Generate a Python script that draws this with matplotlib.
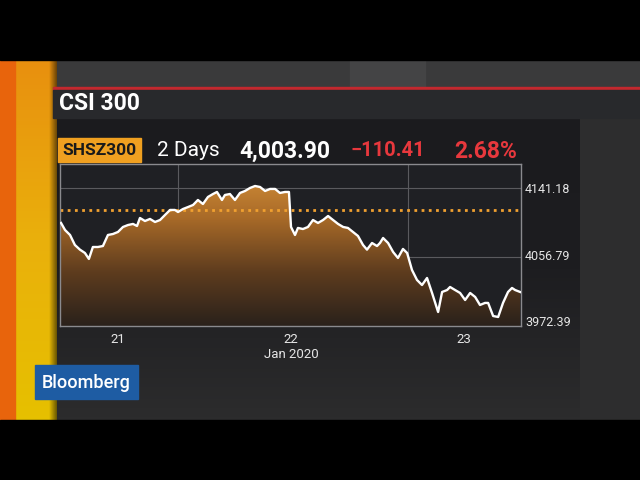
import matplotlib.pyplot as plt
import numpy as np
from matplotlib.patches import Rectangle
from matplotlib.colors import LinearSegmentedColormap
from matplotlib.transforms import ScaledTranslation

# CSI 300 intraday, 2 days (x = fractional day of Jan 2020)
t = [20.671, 20.694, 20.723, 20.751, 20.780, 20.809, 20.832, 20.855, 20.884, 20.913,
     20.942, 20.971, 21.000, 21.029, 21.058, 21.087, 21.110, 21.127, 21.156, 21.185,
     21.214, 21.243, 21.272, 21.301, 21.329, 21.347, 21.376, 21.405, 21.434, 21.462,
     21.491, 21.520, 21.549, 21.572, 21.601, 21.618, 21.647, 21.676, 21.705, 21.734,
     21.763, 21.792, 21.821, 21.850, 21.879, 21.908, 21.936, 21.965, 21.988, 22.000,
     22.023, 22.040, 22.069, 22.098, 22.127, 22.156, 22.185, 22.214, 22.243, 22.272,
     22.301, 22.329, 22.358, 22.387, 22.416, 22.439, 22.468, 22.497, 22.514, 22.532,
     22.561, 22.590, 22.618, 22.647, 22.671, 22.699, 22.728, 22.757, 22.786, 22.815,
     22.850, 22.873, 22.902, 22.919, 22.948, 22.977, 23.006, 23.035, 23.064, 23.092,
     23.121, 23.139, 23.168, 23.197, 23.225, 23.254, 23.277, 23.295, 23.324]
price = [4098.4, 4089.8, 4083.7, 4071.5, 4065.8, 4061.7, 4054.4, 4069.0, 4069.0, 4070.2,
         4083.7, 4084.9, 4087.4, 4093.5, 4095.9, 4097.2, 4094.7, 4104.5, 4100.8, 4103.3,
         4099.6, 4102.0, 4108.2, 4114.3, 4114.3, 4111.8, 4115.5, 4117.9, 4120.4, 4126.5,
         4121.6, 4130.2, 4133.8, 4136.3, 4126.5, 4132.6, 4133.8, 4126.5, 4135.1, 4137.5,
         4141.2, 4143.6, 4142.4, 4137.5, 4140.0, 4140.0, 4135.1, 4136.3, 4136.3, 4093.5,
         4083.7, 4092.3, 4091.0, 4093.5, 4102.0, 4098.4, 4102.0, 4106.9, 4102.0, 4097.2,
         4093.5, 4092.3, 4087.4, 4082.5, 4071.5, 4065.8, 4073.9, 4070.2, 4073.9, 4080.0,
         4073.9, 4062.9, 4055.6, 4066.6, 4061.7, 4040.9, 4028.7, 4022.5, 4031.1, 4012.8,
         3989.5, 4014.0, 4016.4, 4020.1, 4016.4, 4012.8, 4004.2, 4012.8, 4007.9, 3998.1,
         4000.6, 4000.6, 3984.6, 3983.4, 4000.6, 4014.0, 4018.9, 4016.4, 4014.0]

prev_close = 4114.31
y_ticks = [3972.39, 4056.79, 4141.18]
x_ticks = [21, 22, 23]
x_tick_labels = ['21', '22\nJan 2020', '23']
x_grid = [21.347, 22.676]

FONT = ['Roboto', 'DejaVu Sans']

fig = plt.figure(figsize=(6.4, 4.8), dpi=100, facecolor='black')

# ---- background / TV frame (pixel coordinates) ----
bg = fig.add_axes([0, 0, 1, 1])
bg.set_xlim(0, 640)
bg.set_ylim(480, 0)
bg.axis('off')
bg.add_patch(Rectangle((0, 60), 640, 360, color='#2d2d2e', zorder=0))
bg.add_patch(Rectangle((0, 60), 640, 28, color='#3a3a3b', zorder=1))
bg.add_patch(Rectangle((350, 60), 75, 28, color='#444445', zorder=1))
# panel with vertical gradient
ramp = np.linspace(0, 1, 100).reshape(-1, 1)
bg.imshow(ramp, extent=(57, 580, 420, 118),
          cmap=LinearSegmentedColormap.from_list('p', ['#1b1b1e', '#1d1d20', '#2c2c2d']),
          aspect='auto', zorder=2)
# left stripes
bg.imshow(ramp, extent=(15, 57, 420, 60),
          cmap=LinearSegmentedColormap.from_list('s', ['#e8900f', '#eab00c', '#e6c000']),
          aspect='auto', zorder=3)
shade = np.linspace(0, 1, 50).reshape(1, -1)
bg.imshow(shade, extent=(49, 57, 420, 60),
          cmap=LinearSegmentedColormap.from_list('sh', [(0, 0, 0, 0), (0, 0, 0, 0.55)]),
          aspect='auto', zorder=3.5)
bg.add_patch(Rectangle((0, 60), 15, 360, color='#e8640c', zorder=3))
# title bar
bg.add_patch(Rectangle((53, 87), 587, 2.5, color='#c3282e', zorder=4))
bg.add_patch(Rectangle((53, 89.5), 587, 28.5, color='#28292c', zorder=4))
bg.text(59, 104, 'CSI 300', color='white', fontsize=16.5, fontweight='bold',
        family=FONT, va='center', ha='left', zorder=5)
# header
bg.add_patch(Rectangle((58, 138), 83, 24, color='#f0a020', zorder=4))
bg.text(99.5, 150.5, 'SHSZ300', color='#1a1a1a', fontsize=12.5, fontweight='bold',
        family=FONT, va='center', ha='center', zorder=5)
bg.text(157, 151, '2 Days', color='white', fontsize=15, family=FONT, va='center', zorder=5)
bg.text(239, 151, '4,003.90', color='white', fontsize=16.5, fontweight='bold',
        family=FONT, va='center', zorder=5)
bg.text(351, 151, '\u2212110.41', color='#e8383d', fontsize=14.5, fontweight='bold',
        family=FONT, va='center', zorder=5)
bg.text(454, 151, '2.68%', color='#e8383d', fontsize=16.5, fontweight='bold',
        family=FONT, va='center', zorder=5)
# Bloomberg logo
bg.add_patch(Rectangle((35, 365), 103, 34, color='#1e5ca3', zorder=6))
bg.text(86.5, 382.5, 'Bloomberg', color='white', fontsize=13, fontweight='medium',
        family=FONT, va='center', ha='center', zorder=7)
# letterbox bars
bg.add_patch(Rectangle((0, 0), 640, 60, color='black', zorder=8))
bg.add_patch(Rectangle((0, 420), 640, 60, color='black', zorder=8))

# ---- price chart ----
ax = fig.add_axes([60 / 640, 1 - 326 / 480, 461 / 640, 162 / 480])
ax.set_facecolor('#1f2024')
ymin, ymax = 3972.39, 4170.5
ax.set_xlim(20.665, 23.329)
ax.set_ylim(ymin, ymax)

cmap = LinearSegmentedColormap.from_list('f', ['#2a211b', '#5e3c1e', '#a86a28', '#d8923a'])
grad = np.linspace(0, 1, 256).reshape(-1, 1)
poly = ax.fill_between(t, price, ymin, color='none', lw=0)
img = ax.imshow(grad, extent=(20.665, 23.329, ymin, ymax), origin='lower',
                cmap=cmap, aspect='auto', zorder=1)
img.set_clip_path(poly.get_paths()[0], transform=ax.transData)

ax.plot(t, price, color='white', lw=1.7, zorder=3, solid_joinstyle='round')
ax.axhline(prev_close, color='#f0a030', lw=2, ls=(0, (1, 1.6)), zorder=2)

for g in x_grid:
    ax.axvline(g, color='#5a5a5e', lw=0.8, zorder=0.5)
for yv in y_ticks[1:]:
    ax.axhline(yv, color='#5a5a5e', lw=0.8, zorder=0.5)

ax.set_yticks(y_ticks)
ax.set_yticklabels([f'{v:.2f}' for v in y_ticks])
ax.yaxis.tick_right()
ax.set_xticks(x_ticks)
ax.set_xticklabels(x_tick_labels, linespacing=1.25)
ax.tick_params(axis='both', length=0, colors='#e6e6e6', labelsize=9.5)
ax.tick_params(axis='y', pad=3, labelsize=9)
ax.tick_params(axis='x', pad=5)
for lbl in ax.get_xticklabels() + ax.get_yticklabels():
    lbl.set_family(FONT)
# the lower labels sit slightly above their gridlines
for lbl, up in zip(ax.get_yticklabels(), [5, 2, 0]):
    lbl.set_transform(lbl.get_transform() + ScaledTranslation(0, up / 100, fig.dpi_scale_trans))
for s in ax.spines.values():
    s.set_color('#8a8a8e')
    s.set_linewidth(1)

fig.savefig('out.png', dpi=100, facecolor='black')
